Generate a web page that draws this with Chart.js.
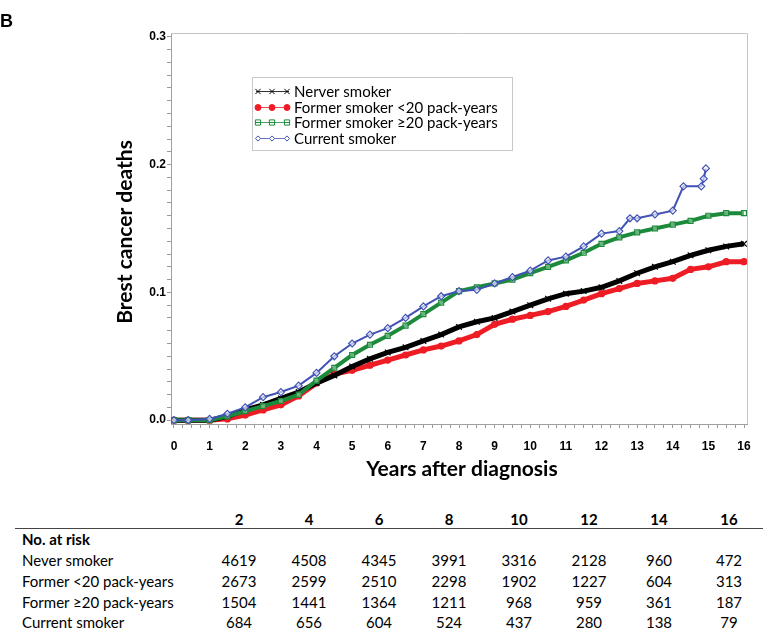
<!DOCTYPE html>
<html><head><meta charset="utf-8">
<script src="https://cdn.jsdelivr.net/npm/chart.js@4.4.1/dist/chart.umd.min.js"></script>
<style>
html,body{margin:0;padding:0;background:#fff;overflow:hidden;width:763px;height:631px;}
#wrap{position:relative;width:763px;height:631px;}
#c{position:absolute;left:0;top:0;}
#risk{position:absolute;left:15px;top:505px;width:749px;border-collapse:collapse;table-layout:fixed;font-family:Lato,'Open Sans',sans-serif;font-size:15px;color:#000;}
#risk td,#risk th{padding:0;white-space:nowrap;}
#risk th{font-weight:bold;text-align:center;height:23px;line-height:18px;vertical-align:bottom;border-bottom:1px solid #444;}
#risk td{height:21px;line-height:21px;text-align:center;}
#risk td.lab{text-align:left;padding-left:7px;}
#risk tr.sub td{font-weight:bold;}
#risk tr.last td{height:18px;line-height:18px;border-bottom:1px solid #444;}
</style>
</head><body>
<div id="wrap">
<canvas id="c" width="763" height="490"></canvas>
<table id="risk"></table>
</div>
<script>
// ---- data ----
const timeGrid = [0, 0.4, 1, 1.5, 2, 2.5, 3, 3.5, 4, 4.5, 5, 5.5, 6, 6.5, 7, 7.5, 8, 8.5, 9, 9.5, 10, 10.5, 11, 11.5, 12, 12.5, 13, 13.5, 14, 14.5, 15, 15.5, 16];
const neverSmoker = [0, 0, 0.000, 0.003, 0.008, 0.012, 0.017, 0.022, 0.029, 0.035, 0.042, 0.048, 0.053, 0.057, 0.062, 0.067, 0.073, 0.077, 0.080, 0.085, 0.090, 0.095, 0.099, 0.101, 0.104, 0.109, 0.115, 0.120, 0.124, 0.129, 0.133, 0.136, 0.138];
const formerUnder20 = [0, 0, 0.000, 0.001, 0.004, 0.008, 0.012, 0.019, 0.029, 0.036, 0.039, 0.043, 0.047, 0.051, 0.055, 0.058, 0.062, 0.067, 0.075, 0.079, 0.082, 0.085, 0.089, 0.094, 0.099, 0.103, 0.107, 0.109, 0.111, 0.118, 0.120, 0.124, 0.124];
const formerOver20 = [0, 0, 0.000, 0.003, 0.007, 0.011, 0.015, 0.020, 0.031, 0.041, 0.051, 0.059, 0.066, 0.074, 0.083, 0.092, 0.101, 0.104, 0.107, 0.110, 0.115, 0.120, 0.125, 0.131, 0.138, 0.143, 0.147, 0.150, 0.153, 0.156, 0.160, 0.162, 0.162];
const currentTimes = [0, 0.4, 1, 1.5, 2, 2.5, 3, 3.5, 4, 4.5, 5, 5.5, 6, 6.5, 7, 7.5, 8, 8.5, 9, 9.5, 10, 10.5, 11, 11.5, 12, 12.5, 12.8, 13, 13.5, 14, 14.3, 14.8, 14.87, 14.93];
const currentSmoker = [0, 0, 0.001, 0.005, 0.010, 0.018, 0.022, 0.027, 0.037, 0.050, 0.060, 0.067, 0.072, 0.080, 0.089, 0.097, 0.101, 0.102, 0.107, 0.112, 0.117, 0.125, 0.128, 0.136, 0.146, 0.148, 0.158, 0.158, 0.161, 0.164, 0.183, 0.183, 0.189, 0.197];
const seriesLabels = ['Nerver smoker', 'Former smoker <20 pack-years', 'Former smoker \u226520 pack-years', 'Current smoker'];
const yTitle = 'Brest cancer deaths';
const xTitle = 'Years after diagnosis';
const panelLetter = 'B';

const riskYears = [2, 4, 6, 8, 10, 12, 14, 16];
const riskHeading = 'No. at risk';
const riskLabels = ['Never smoker', 'Former <20 pack-years', 'Former \u226520 pack-years', 'Current smoker'];
const riskNever = [4619, 4508, 4345, 3991, 3316, 2128, 960, 472];
const riskFormerUnder20 = [2673, 2599, 2510, 2298, 1902, 1227, 604, 313];
const riskFormerOver20 = [1504, 1441, 1364, 1211, 968, 959, 361, 187];
const riskCurrent = [684, 656, 604, 524, 437, 280, 138, 79];

// ---- styles ----
const COLORS = ['#000000', '#ee1c25', '#1b8a3a', '#4052b5'];
const STYLES = [
  {pointStyle: 'crossRot', pointRadius: 4, borderWidth: 5, fill: '#000000', order: 2},
  {pointStyle: 'circle', pointRadius: 3, borderWidth: 5, fill: '#ee1c25', order: 3},
  {pointStyle: 'rect', pointRadius: 3.5, borderWidth: 4, fill: 'rgba(255,255,255,0.35)', order: 1},
  {pointStyle: 'rectRot', pointRadius: 3.5, borderWidth: 2, fill: 'rgba(255,255,255,0.6)', order: 0}
];

function toXY(xs, ys) { return xs.map((x, i) => ({x: x, y: ys[i]})); }
const seriesData = [
  toXY(timeGrid, neverSmoker),
  toXY(timeGrid, formerUnder20),
  toXY(timeGrid, formerOver20),
  toXY(currentTimes, currentSmoker)
];

const datasets = seriesData.map((d, i) => ({
  label: seriesLabels[i],
  data: d,
  borderColor: COLORS[i],
  backgroundColor: COLORS[i],
  borderWidth: STYLES[i].borderWidth,
  pointStyle: STYLES[i].pointStyle,
  pointRadius: STYLES[i].pointRadius,
  pointBorderWidth: 1.2,
  pointBorderColor: COLORS[i],
  pointBackgroundColor: STYLES[i].fill,
  tension: 0,
  order: STYLES[i].order
}));

function legendMarker(ctx, st, px, py, color) {
  const r = 2.6;
  ctx.fillStyle = st === 'circle' ? color : '#fff';
  ctx.strokeStyle = color;
  ctx.lineWidth = 1;
  ctx.beginPath();
  if (st === 'circle') { ctx.arc(px, py, r + 0.4, 0, Math.PI * 2); ctx.fill(); ctx.stroke(); }
  else if (st === 'rect') { ctx.rect(px - r, py - r, 2 * r, 2 * r); ctx.fill(); ctx.stroke(); ctx.beginPath(); ctx.moveTo(px - r, py); ctx.lineTo(px + r, py); ctx.stroke(); }
  else if (st === 'rectRot') { ctx.moveTo(px, py - r); ctx.lineTo(px + r, py); ctx.lineTo(px, py + r); ctx.lineTo(px - r, py); ctx.closePath(); ctx.fill(); ctx.stroke(); }
  else { ctx.moveTo(px - r, py - r); ctx.lineTo(px + r, py + r); ctx.moveTo(px + r, py - r); ctx.lineTo(px - r, py + r); ctx.stroke(); }
}

const decor = {
  id: 'decor',
  beforeDatasetsDraw(chart) {
    const {ctx, chartArea: a} = chart;
    ctx.save();
    ctx.strokeStyle = '#c4c4c4';
    ctx.lineWidth = 1;
    ctx.beginPath();
    ctx.moveTo(a.left, Math.round(a.top) + 0.5);
    ctx.lineTo(Math.round(a.right) + 0.5, Math.round(a.top) + 0.5);
    ctx.lineTo(Math.round(a.right) + 0.5, a.bottom);
    ctx.stroke();
    ctx.restore();
  },
  afterDraw(chart) {
    const {ctx} = chart;
    ctx.save();
    // legend
    ctx.fillStyle = '#fff';
    ctx.fillRect(252, 77, 260, 73);
    ctx.strokeStyle = '#c8c8c8';
    ctx.lineWidth = 1;
    ctx.strokeRect(252.5, 77.5, 260, 73);
    const rows = [91, 107, 122, 138];
    rows.forEach((yy, i) => {
      const py = yy + 0.5;
      ctx.strokeStyle = COLORS[i];
      ctx.globalAlpha = 0.8;
      ctx.lineWidth = 1;
      ctx.beginPath();
      ctx.moveTo(256, py);
      ctx.lineTo(289, py);
      ctx.stroke();
      ctx.globalAlpha = 1;
      [258, 272, 287].forEach(px => legendMarker(ctx, STYLES[i].pointStyle, px, py, COLORS[i]));
      ctx.fillStyle = '#000';
      ctx.font = '15px Lato, "Open Sans", sans-serif';
      ctx.textAlign = 'left';
      ctx.textBaseline = 'middle';
      ctx.fillText(seriesLabels[i], 294, yy + 1);
    });
    // axis titles
    ctx.fillStyle = '#000';
    ctx.font = 'bold 21px Lato, "Open Sans", sans-serif';
    ctx.textAlign = 'center';
    ctx.textBaseline = 'middle';
    ctx.fillText(xTitle, 462, 469);
    ctx.save();
    ctx.translate(125, 232);
    ctx.rotate(-Math.PI / 2);
    ctx.fillText(yTitle, 0, 0);
    ctx.restore();
    ctx.font = 'bold 18px "Liberation Sans", Arial, sans-serif';
    ctx.textAlign = 'left';
    ctx.fillText(panelLetter, 0, 22);
    ctx.restore();
  }
};

new Chart(document.getElementById('c'), {
  type: 'line',
  data: {datasets: datasets},
  plugins: [decor],
  options: {
    responsive: false,
    animation: false,
    devicePixelRatio: 1,
    layout: {padding: {left: 0, right: 16, top: 33, bottom: 0}},
    plugins: {legend: {display: false}, tooltip: {enabled: false}},
    scales: {
      x: {
        type: 'linear', min: -0.084, max: 16.084,
        afterFit: s => { s.height = 66; },
        ticks: {
          stepSize: 0.25, includeBounds: false, autoSkip: false, maxRotation: 0,
          callback: v => (Math.abs(v - Math.round(v)) < 1e-9 ? String(Math.round(v)) : ''),
          font: {family: '"Liberation Sans", Arial, sans-serif', weight: 'bold', size: 12},
          color: '#000', padding: 11
        },
        grid: {drawOnChartArea: false, tickLength: 4, color: '#9a9a9a', tickColor: '#9a9a9a'},
        border: {color: '#a0a0a0'}
      },
      y: {
        min: -0.003, max: 0.303,
        afterFit: s => { s.width = 171; },
        ticks: {
          stepSize: 0.01, includeBounds: false, autoSkip: false,
          callback: v => (Math.abs(v * 10 - Math.round(v * 10)) < 1e-6 ? (Math.round(v * 10) / 10).toFixed(1) : ''),
          font: {family: '"Liberation Sans", Arial, sans-serif', weight: 'bold', size: 12},
          color: '#000', padding: 1
        },
        grid: {drawOnChartArea: false, tickLength: 4, color: '#9a9a9a', tickColor: '#9a9a9a'},
        border: {color: '#a0a0a0'}
      }
    }
  }
});

// ---- at-risk table ----
(function () {
  const t = document.getElementById('risk');
  let html = '<colgroup><col style="width:189px">' + riskYears.map(() => '<col style="width:70px">').join('') + '</colgroup>';
  html += '<tr><th></th>' + riskYears.map(y => '<th>' + y + '</th>').join('') + '</tr>';
  html += '<tr class="sub"><td class="lab">' + riskHeading + '</td>' + riskYears.map(() => '<td></td>').join('') + '</tr>';
  const rows = [riskNever, riskFormerUnder20, riskFormerOver20, riskCurrent];
  rows.forEach((r, i) => {
    html += '<tr' + (i === rows.length - 1 ? ' class="last"' : '') + '><td class="lab">' + riskLabels[i] + '</td>' + r.map(v => '<td>' + v + '</td>').join('') + '</tr>';
  });
  t.innerHTML = html;
})();
</script>
</body></html>
